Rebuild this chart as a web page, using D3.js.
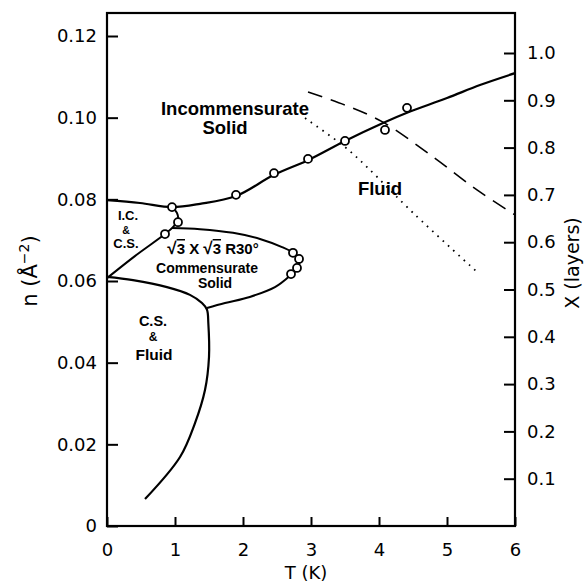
<!DOCTYPE html>
<html>
<head>
<meta charset="utf-8">
<script src="https://cdn.jsdelivr.net/npm/d3@7"></script>
<style>
  html, body { margin: 0; padding: 0; background: #fff; }
  svg { display: block; }
  .tick text { font-family: "DejaVu Sans", sans-serif; font-size: 18px; fill: #000; }
  .lbl { font-family: "Liberation Sans", Arial, sans-serif; font-weight: bold; fill: #000; }
</style>
</head>
<body>
<script>
// Axis ticks
const tempTicks = [0, 1, 2, 3, 4, 5, 6];
const densityTicks = [0, 0.02, 0.04, 0.06, 0.08, 0.10, 0.12];
const densityTickLabels = ["0", "0.02", "0.04", "0.06", "0.08", "0.10", "0.12"];
const layerTicks = [0.1, 0.2, 0.3, 0.4, 0.5, 0.6, 0.7, 0.8, 0.9, 1.0];

// Phase boundaries, [T (K), n (Å^-2)]
const incommensurateBoundary = [
  [0, 0.0798], [0.485, 0.0791], [0.956, 0.0781], [1.368, 0.0789], [1.897, 0.0808],
  [2.456, 0.0860], [2.956, 0.0896], [3.5, 0.0943], [4.059, 0.0987], [4.412, 0.1012],
  [5.0, 0.1048], [5.485, 0.1080], [6.0, 0.1109]
];
const icCsBoundary = [
  [0, 0.0607], [0.41, 0.0661], [0.853, 0.0715], [0.97, 0.0732], [1.044, 0.0750],
  [1.03, 0.0766], [0.956, 0.0781]
];
const commensurateBoundary = [
  [0.956, 0.0730], [1.368, 0.0727], [1.853, 0.0718], [2.25, 0.0703], [2.574, 0.0683],
  [2.735, 0.0669], [2.824, 0.0651], [2.81, 0.0632], [2.706, 0.0615], [2.47, 0.0585],
  [2.10, 0.0561], [1.735, 0.0546], [1.47, 0.0534]
];
const csFluidBoundary = [
  [0, 0.0610], [0.382, 0.0602], [0.882, 0.0585], [1.22, 0.0566], [1.397, 0.0546],
  [1.47, 0.0530], [1.49, 0.0497], [1.5, 0.0414], [1.441, 0.0333], [1.294, 0.0252],
  [1.074, 0.0169], [0.559, 0.0066]
];
const meltingDashed = [
  [2.956, 0.1063], [3.5, 0.1031], [4.059, 0.0989], [4.794, 0.0904], [5.441, 0.0823], [6.0, 0.0762]
];
const meltingDotted = [
  [2.912, 0.0999], [3.5, 0.0928], [3.824, 0.0879], [4.5, 0.0767], [5.456, 0.0620]
];

// Measured points, [T (K), n (Å^-2)]
const measuredPoints = [
  [0.956, 0.0781], [1.044, 0.0744], [0.853, 0.0715], [1.897, 0.0811], [2.456, 0.0864],
  [2.956, 0.0899], [3.5, 0.0943], [4.088, 0.0970], [4.412, 0.1024],
  [2.735, 0.0669], [2.824, 0.0654], [2.794, 0.0632], [2.706, 0.0617]
];

const W = 585, H = 582;
const plot = { left: 107, right: 515, top: 13, bottom: 526 };

const x = d3.scaleLinear().domain([0, 6]).range([plot.left, plot.right]);
const y = d3.scaleLinear().domain([0, 0.12]).range([plot.bottom, 36]);
const yX = d3.scaleLinear().domain([0, 1.0]).range([plot.bottom, 53]);

const svg = d3.select("body").append("svg").attr("width", W).attr("height", H);

// Frame
svg.append("rect")
  .attr("x", plot.left).attr("y", plot.top)
  .attr("width", plot.right - plot.left).attr("height", plot.bottom - plot.top)
  .attr("fill", "none").attr("stroke", "#000").attr("stroke-width", 2.2);

// Axes with inward ticks
const gx = svg.append("g").attr("transform", `translate(0,${plot.bottom})`)
  .call(d3.axisBottom(x).tickValues(tempTicks).tickSize(-9).tickPadding(17).tickFormat(d3.format("d")));
const gy = svg.append("g").attr("transform", `translate(${plot.left},0)`)
  .call(d3.axisLeft(y).tickValues(densityTicks).tickSize(-11).tickPadding(10)
    .tickFormat((d, i) => densityTickLabels[i]));
const gr = svg.append("g").attr("transform", `translate(${plot.right},0)`)
  .call(d3.axisRight(yX).tickValues(layerTicks).tickSize(-11).tickPadding(12).tickFormat(d3.format(".1f")));
[gx, gy, gr].forEach(g => {
  g.select(".domain").remove();
  g.selectAll(".tick line").attr("stroke", "#000").attr("stroke-width", 2);
});

// Axis titles
const nLabel = svg.append("text")
  .attr("transform", "translate(37,271) rotate(-90)")
  .attr("text-anchor", "middle")
  .style("font-family", "DejaVu Sans, sans-serif").style("font-size", "21px");
nLabel.append("tspan").text("n (");
nLabel.append("tspan").text("Å");
nLabel.append("tspan").attr("dy", -8).style("font-size", "14px").text("−2");
nLabel.append("tspan").attr("dy", 8).text(")");

svg.append("text")
  .attr("transform", "translate(579,263) rotate(-90)")
  .attr("text-anchor", "middle")
  .style("font-family", "DejaVu Sans, sans-serif").style("font-size", "19px")
  .text("X (layers)");

svg.append("text")
  .attr("x", 306).attr("y", 579)
  .attr("text-anchor", "middle")
  .style("font-family", "DejaVu Sans, sans-serif").style("font-size", "18px")
  .text("T (K)");

// Boundaries
const line = d3.line().x(d => x(d[0])).y(d => y(d[1])).curve(d3.curveCatmullRom.alpha(0.5));
const g = svg.append("g").attr("fill", "none").attr("stroke", "#000");

g.append("path").attr("d", line(incommensurateBoundary)).attr("stroke-width", 2.2);
g.append("path").attr("d", line(icCsBoundary)).attr("stroke-width", 2);
g.append("path").attr("d", line(commensurateBoundary)).attr("stroke-width", 2);
g.append("path").attr("d", line(csFluidBoundary)).attr("stroke-width", 2.2);
g.append("path").attr("d", line(meltingDashed)).attr("stroke-width", 1.6)
  .attr("stroke-dasharray", "15,9");
g.append("path").attr("d", line(meltingDotted)).attr("stroke-width", 1.8)
  .attr("stroke-dasharray", "1.6,5.5");

// Points
svg.append("g").selectAll("circle").data(measuredPoints).join("circle")
  .attr("cx", d => x(d[0])).attr("cy", d => y(d[1])).attr("r", 4)
  .attr("fill", "#fff").attr("stroke", "#000").attr("stroke-width", 1.8);

// Region labels
function label(txt, tx, ty, size) {
  return svg.append("text").attr("class", "lbl")
    .attr("x", tx).attr("y", ty).attr("text-anchor", "middle")
    .style("font-size", size + "px").text(txt);
}
label("Incommensurate", 235, 115, 18.5);
label("Solid", 225, 134, 18.5);
label("Fluid", 380, 195, 18.5);
label("I.C.", 128, 220, 13);
label("&", 126, 233.5, 10.5);
label("C.S.", 126, 248, 13);
label("Commensurate", 207, 273, 14);
label("Solid", 215, 288, 14);
label("C.S.", 153, 326, 14.5);
label("&", 153, 341, 12);
label("Fluid", 154, 360, 15.5);

const root = svg.append("text").attr("class", "lbl")
  .attr("x", 213).attr("y", 254).attr("text-anchor", "middle")
  .style("font-size", "15px");
root.append("tspan").style("font-size", "17px").text("√");
root.append("tspan").style("text-decoration", "overline").text("3");
root.append("tspan").text(" X ");
root.append("tspan").style("font-size", "17px").text("√");
root.append("tspan").style("text-decoration", "overline").text("3");
root.append("tspan").text("   R30°");
</script>
</body>
</html>
